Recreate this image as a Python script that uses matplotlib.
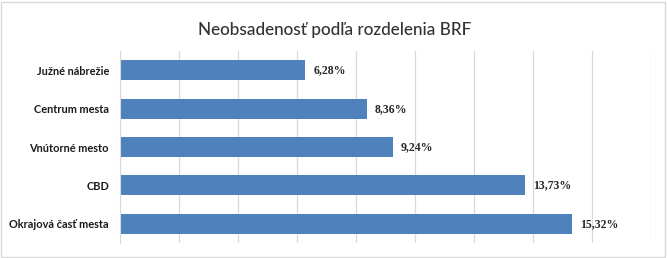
import matplotlib
matplotlib.use("Agg")
import matplotlib.pyplot as plt
from matplotlib.patches import Rectangle
import numpy as np

categories = ["Južné nábrežie", "Centrum mesta", "Vnútorné mesto", "CBD", "Okrajová časť mesta"]
values = [6.28, 8.36, 9.24, 13.73, 15.32]
title = "Neobsadenosť podľa rozdelenia BRF"

sans = ["Lato", "DejaVu Sans"]
serif = ["Liberation Serif", "DejaVu Serif"]

fig = plt.figure(figsize=(6.67, 2.58), dpi=100)
ax = fig.add_axes([0.18, 0.058, 0.796, 0.744])

y = np.arange(len(categories))
ax.barh(y, values, height=0.52, color="#4F81BD", zorder=2)

for yi, v in zip(y, values):
    label = f"{v:.2f}%".replace(".", ",")
    ax.text(v + 0.27, yi, label, va="center", ha="left", fontsize=8.5,
            fontweight="bold", family=serif, color="#262626")

ax.set_xlim(0, 18)
ax.set_ylim(len(categories) - 0.5, -0.5)
ax.set_xticks(np.arange(0, 19, 2))
ax.set_xticklabels([])
ax.tick_params(axis="x", length=0)
ax.set_yticks(y)
ax.set_yticklabels(categories, fontsize=7.9, family=sans, fontweight="bold", color="#1a1a1a")
ax.tick_params(axis="y", length=0, pad=8)
ax.grid(axis="x", color="#d9d9d9", linewidth=0.9, zorder=0)
for s in ["top", "right", "bottom"]:
    ax.spines[s].set_visible(False)
ax.spines["left"].set_color("#d9d9d9")

fig.text(0.502, 0.885, title, ha="center", va="center", fontsize=12.3,
         family=sans, fontweight="medium", color="#333333")

fig.patches.append(Rectangle((0.002, 0.004), 0.995, 0.99, transform=fig.transFigure,
                             fill=False, edgecolor="#d9d9d9", linewidth=1))

fig.savefig("out.png", dpi=100)
